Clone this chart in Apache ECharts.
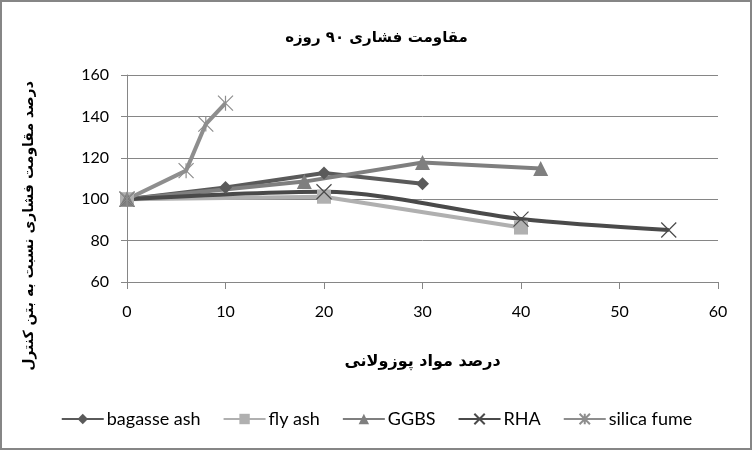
<!DOCTYPE html>
<html><head><meta charset="utf-8">
<script src="https://cdn.jsdelivr.net/npm/echarts@6/dist/echarts.min.js"></script>
<style>html,body{margin:0;padding:0;background:#fff}#c{width:753px;height:451px}</style>
</head><body><div id="c"></div>
<script>
const titleText = 'مقاومت فشاری ۹۰ روزه';
const xName = 'درصد مواد پوزولانی';
const yName = 'درصد مقاومت فشاری نسبت به بتن کنترل';
const seriesNames = ['bagasse ash', 'fly ash', 'GGBS', 'RHA', 'silica fume'];
const bagasseAsh = [[0, 100], [10, 105.7], [20, 112.7], [30, 107.5]];
const flyAsh = [[0, 100], [20, 101.2], [40, 86.3]];
const ggbs = [[0, 100], [18, 108.5], [30, 117.7], [42, 114.8]];
const rha = [[0, 100], [20, 103.6], [40, 90.4], [55, 85.1]];
const silicaFume = [[0, 100], [6, 113.8], [8, 136.3], [10, 146.4]];
const xTicks = {min: 0, max: 60, interval: 10};
const yTicks = {min: 60, max: 160, interval: 20};

const crossPath = 'path://M0,0L20,20M20,0L0,20';
const starPath = 'path://M0,0L20,20M20,0L0,20M10,0L10,20';
const font = 'Lato, "Open Sans", sans-serif';
const axisGray = '#868686';

function mk(name, data, color, symbol, size, extra) {
  return Object.assign({
    name, type: 'line', data, symbol, symbolSize: size,
    lineStyle: {color, width: 4},
    itemStyle: {color},
    emphasis: {disabled: true}
  }, extra || {});
}
const series = [
  mk(seriesNames[0], bagasseAsh, '#5a5a5a', 'diamond', 13),
  mk(seriesNames[1], flyAsh, '#b0b0b0', 'rect', 14),
  mk(seriesNames[2], ggbs, '#7f7f7f', 'triangle', 15),
  mk(seriesNames[3], rha, '#4a4a4a', crossPath, 15, {smooth: 0.3, itemStyle: {color: 'none', borderColor: '#4a4a4a', borderWidth: 1.2}}),
  mk(seriesNames[4], silicaFume, '#8e8e8e', starPath, 15, {itemStyle: {color: 'none', borderColor: '#8e8e8e', borderWidth: 1.2}})
];

const chart = echarts.init(document.getElementById('c'), null, {renderer: 'canvas'});
chart.setOption({
  animation: false,
  backgroundColor: '#fff',
  title: {text: titleText, left: 'center', top: 26, textStyle: {fontFamily: 'DejaVu Sans', fontWeight: 'bold', fontSize: 15, color: '#000'}},
  grid: {left: 127, right: 35, top: 75, bottom: 169, containLabel: false},
  xAxis: {
    type: 'value', min: xTicks.min, max: xTicks.max, interval: xTicks.interval,
    name: xName, nameLocation: 'middle', nameGap: 72,
    nameTextStyle: {fontFamily: 'DejaVu Sans', fontWeight: 'bold', fontSize: 16, color: '#000'},
    axisLine: {show: true, lineStyle: {color: axisGray}},
    axisTick: {show: true, length: 7, lineStyle: {color: axisGray}},
    axisLabel: {fontFamily: font, fontSize: 16, color: '#000', margin: 22},
    splitLine: {show: false}
  },
  yAxis: {
    type: 'value', min: yTicks.min, max: yTicks.max, interval: yTicks.interval,
    axisLine: {show: true, lineStyle: {color: axisGray}},
    axisTick: {show: true, length: 6, lineStyle: {color: axisGray}},
    axisLabel: {fontFamily: font, fontSize: 16, color: '#000', margin: 18},
    splitLine: {show: true, lineStyle: {color: axisGray}}
  },
  legend: {
    data: seriesNames, bottom: 18, left: 'center', itemWidth: 42, itemHeight: 13, itemGap: 22,
    textStyle: {fontFamily: font, fontSize: 18, color: '#000', padding: [0, 0, 0, -2]}
  },
  graphic: [
    {type: 'rect', shape: {x: 1, y: 1, width: 750, height: 448}, style: {fill: 'none', stroke: '#868686', lineWidth: 2}, silent: true},
    {type: 'text', x: 29, y: 226, rotation: Math.PI / 2,
     style: {text: yName, font: 'bold 14px "DejaVu Sans"', fill: '#000', textAlign: 'center', textVerticalAlign: 'middle'}}
  ],
  series
});
</script></body></html>
